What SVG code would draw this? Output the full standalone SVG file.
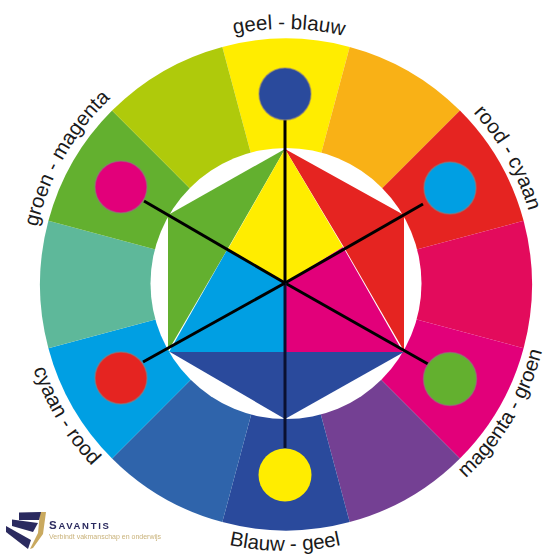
<svg xmlns="http://www.w3.org/2000/svg" width="550" height="554" viewBox="0 0 550 554">
<style>
.lbl{font-family:"Liberation Sans",Arial,sans-serif;font-size:20.500px;fill:#1a1a1a;text-anchor:middle}
.spoke{stroke:#000;stroke-width:3;fill:none}
.dot{stroke:#8a7f80;stroke-opacity:.55;stroke-width:1.5}
</style>
<defs>
<path id="w" d="M0 0L-63.67-237.6A246 246 0 0 1 63.67-237.6Z"/>
<path id="top" d="M285 283m-254 0a254 254 0 0 1 508 0"/>
<path id="bot" d="M285 283m-268 0a268 268 0 0 0 536 0"/>
<path id="bot2" d="M285 283m-266 0a266 266 0 0 0 532 0"/>
<filter id="soft" x="-5%" y="-5%" width="110%" height="110%"><feGaussianBlur stdDeviation="0.350"/></filter>
</defs>
<rect width="550" height="554" fill="#fff"/>
<g id="ring">
<use href="#w" transform="translate(286 284.500) rotate(0)" fill="#ffed00"/>
<use href="#w" transform="translate(286 284.500) rotate(30)" fill="#f9b116"/>
<use href="#w" transform="translate(286 284.500) rotate(60)" fill="#e52421"/>
<use href="#w" transform="translate(286 284.500) rotate(90)" fill="#e30b5c"/>
<use href="#w" transform="translate(286 284.500) rotate(120)" fill="#e2007a"/>
<use href="#w" transform="translate(286 284.500) rotate(150)" fill="#744093"/>
<use href="#w" transform="translate(286 284.500) rotate(180)" fill="#2a4a9c"/>
<use href="#w" transform="translate(286 284.500) rotate(210)" fill="#2f64ab"/>
<use href="#w" transform="translate(286 284.500) rotate(240)" fill="#009fe3"/>
<use href="#w" transform="translate(286 284.500) rotate(270)" fill="#5eb89a"/>
<use href="#w" transform="translate(286 284.500) rotate(300)" fill="#63b02f"/>
<use href="#w" transform="translate(286 284.500) rotate(330)" fill="#afca0b"/>
<circle cx="286" cy="283.500" r="135.500" fill="#fff"/>
</g>
<g id="hexagon">
<polygon points="285,149 404,215 404,351 345,249" fill="#e52421"/>
<polygon points="285,149 168,215 168,351 227,250" fill="#63b02f"/>
<polygon points="170,352 404,352 285,419" fill="#2a4a9c"/>
<polygon points="285,149 343,247 285,283 228,249" fill="#ffed00"/>
<polygon points="343,247 403,352 285,352 285,283" fill="#e2007a"/>
<polygon points="227,250 285,283 285,352 169,352" fill="#009fe3"/>
</g>
<g id="connectors">
<line class="spoke" x1="285" y1="120" x2="285" y2="283"/>
<line class="spoke" x1="423" y1="204" x2="285" y2="283"/>
<line class="spoke" x1="428" y1="364" x2="285" y2="283"/>
<line class="spoke" x1="285" y1="448" x2="285" y2="283" style="stroke:#0a1030"/>
<line class="spoke" x1="143" y1="362" x2="285" y2="283"/>
<line class="spoke" x1="144" y1="201" x2="285" y2="283"/>
</g>
<g id="node-geel-blauw">
<circle class="dot" cx="285" cy="94" r="26" fill="#2a4a9c"/>
<text class="lbl" transform="rotate(0.900 285 283)"><textPath href="#top" startOffset="50%">geel - blauw</textPath></text>
</g>
<g id="node-rood-cyaan">
<circle class="dot" cx="450" cy="188" r="26" fill="#009fe3"/>
<text class="lbl" transform="rotate(60.700 285 283)"><textPath href="#top" startOffset="50%">rood - cyaan</textPath></text>
</g>
<g id="node-magenta-groen">
<circle class="dot" cx="450" cy="379" r="26.500" fill="#63b02f"/>
<text class="lbl" transform="rotate(-59 285 283)"><textPath href="#bot2" startOffset="50%">magenta - groen</textPath></text>
</g>
<g id="node-blauw-geel">
<circle cx="285" cy="475" r="26.500" fill="#ffed00"/>
<text class="lbl"><textPath href="#bot" startOffset="50%">Blauw - geel</textPath></text>
</g>
<g id="node-cyaan-rood">
<circle class="dot" cx="121" cy="378" r="26" fill="#e52421"/>
<text class="lbl" transform="rotate(58.800 285 283)"><textPath href="#bot2" startOffset="50%">cyaan - rood</textPath></text>
</g>
<g id="node-groen-magenta">
<circle class="dot" cx="121" cy="187" r="26" fill="#e2007a"/>
<text class="lbl" transform="rotate(-60.300 285 283)"><textPath href="#top" startOffset="50%">groen - magenta</textPath></text>
</g>
<g id="logo" filter="url(#soft)">
<polygon points="40,512 46,512 43,534 33,548 30,549 38,533" fill="#c9a95f"/>
<polygon points="19,512.500 41,512 39,520 19,520" fill="#2b2a5e"/>
<polygon points="12,519.500 38,523 33,532 12,526" fill="#2b2a5e"/>
<polygon points="6,526 31,540 28,549 6,532" fill="#2b2a5e"/>
<text x="49" y="528.500" font-family="'Liberation Sans',Arial,sans-serif" font-weight="700" fill="#2b2a5e" letter-spacing="1.700" font-size="9.500"><tspan font-size="11.500">S</tspan>AVANTIS</text>
<text x="49" y="539" font-family="'Liberation Sans',Arial,sans-serif" font-size="7" fill="#c9b27a">Verbindt vakmanschap en onderwijs</text>
</g>
</svg>
